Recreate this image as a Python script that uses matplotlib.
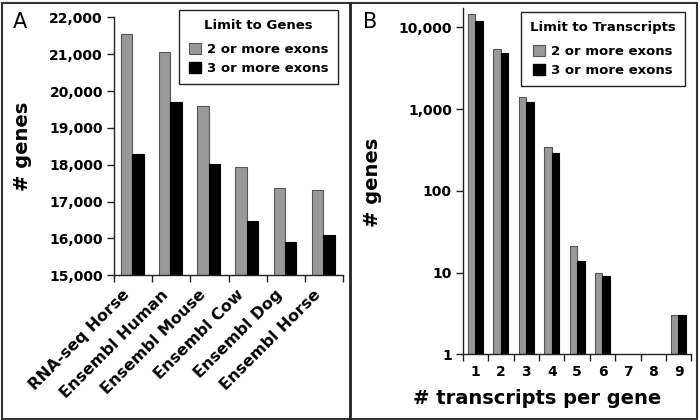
import matplotlib.pyplot as plt
import numpy as np
from matplotlib.ticker import FuncFormatter, FixedLocator, NullLocator
from matplotlib.patches import Rectangle
from matplotlib.lines import Line2D
from matplotlib.transforms import ScaledTranslation, blended_transform_factory

# Painel A: genes por anotacao
fontes = ['RNA-seq Horse', 'Ensembl Human', 'Ensembl Mouse',
          'Ensembl Cow', 'Ensembl Dog', 'Ensembl Horse']
genes_2exons = [21560, 21050, 19600, 17950, 17360, 17320]
genes_3exons = [18290, 19690, 18030, 16480, 15900, 16080]

# Painel B: transcritos por gene
transcritos = [1, 2, 3, 4, 5, 6, 7, 8, 9]
trans_2exons = [14400, 5430, 1410, 344, 21, 10, 0, 0, 3]
trans_3exons = [11900, 4900, 1220, 286, 14, 9, 0, 0, 3]

cinza = '#999999'
plt.rcParams['font.family'] = 'DejaVu Sans'
plt.rcParams['font.weight'] = 'bold'

fig = plt.figure(figsize=(7, 4.2), dpi=100)
W, H = 700.0, 420.0

def milhar(v, pos):
    return '{:,.0f}'.format(v)

def estilo(ax):
    for s in ['top', 'right']:
        ax.spines[s].set_visible(False)
    for s in ['left', 'bottom']:
        ax.spines[s].set_color('#222222')
        ax.spines[s].set_linewidth(1.0)
    ax.tick_params(axis='y', length=5, width=1, color='#222222', labelsize=10, pad=3)
    ax.tick_params(axis='x', which='major', length=0, labelsize=10)
    ax.tick_params(axis='x', which='minor', length=5, width=1, color='#222222')
    for t in ax.get_yticklabels() + ax.get_xticklabels():
        t.set_fontweight('bold')

def legenda(ax, titulo, x, y):
    hs = [Rectangle((0, 0), 1, 1, facecolor=cinza, edgecolor='#555555', linewidth=0.8),
          Rectangle((0, 0), 1, 1, facecolor='black', edgecolor='black')]
    leg = fig.legend(hs, ['2 or more exons', '3 or more exons'], title=titulo,
                     loc='upper right', bbox_to_anchor=(x / W, 1 - y / H),
                     fancybox=False, framealpha=1, edgecolor='#222222',
                     prop={'size': 9.5, 'weight': 'bold'},
                     title_fontproperties={'size': 9.5, 'weight': 'bold'},
                     handlelength=0.9, handleheight=0.9, handletextpad=0.5,
                     labelspacing=0.42, borderpad=0.7, borderaxespad=0)
    leg.get_frame().set_linewidth(1.0)
    leg._legend_box.sep = 7.8
    return leg

# ---- Painel A ----
axA = fig.add_axes([114 / W, 1 - 275.3 / H, (343 - 114) / W, (275.3 - 17.3) / H])
x = np.arange(len(fontes))
axA.bar(x - 0.17, genes_2exons, 0.3, color=cinza, edgecolor='#555555', linewidth=0.8)
axA.bar(x + 0.13, genes_3exons, 0.3, color='black', edgecolor='black', linewidth=0.8)
axA.set_xlim(-0.5, len(fontes) - 0.5)
axA.set_ylim(15000, 22000)
axA.set_yticks(np.arange(15000, 22001, 1000))
axA.yaxis.set_major_formatter(FuncFormatter(milhar))
axA.set_xticks(x)
axA.set_xticklabels([])
axA.xaxis.set_minor_locator(FixedLocator(np.arange(-0.5, len(fontes), 1.0)))
estilo(axA)
# rotulos inclinados das categorias
trans_rot = blended_transform_factory(axA.transData, axA.transAxes) + \
    ScaledTranslation(-11 / 100, -12 / 100, fig.dpi_scale_trans)
for i, nome in enumerate(fontes):
    axA.text(x[i], 0, nome, transform=trans_rot, rotation=45, ha='right', va='top',
             rotation_mode='anchor', fontsize=11.5, fontweight='bold')
fig.text(23 / W, 1 - 146 / H, '# genes', rotation=90, ha='center', va='center',
         fontsize=14, fontweight='bold')
fig.text(20 / W, 1 - 22 / H, 'A', ha='center', va='center', fontsize=15, fontweight='normal')
legenda(axA, 'Limit to Genes', 338, 10)

# ---- Painel B ----
axB = fig.add_axes([463 / W, 1 - 354.3 / H, (691.3 - 463) / W, (354.3 - 8) / H])
xb = np.array(transcritos)
v2 = np.array(trans_2exons, dtype=float)
v3 = np.array(trans_3exons, dtype=float)
h2 = np.where(v2 > 0, v2 - 1, np.nan)
h3 = np.where(v3 > 0, v3 - 1, np.nan)
axB.set_yscale('log')
axB.bar(xb - 0.155, h2, 0.29, bottom=1, color=cinza, edgecolor='#555555', linewidth=0.8)
axB.bar(xb + 0.14, h3, 0.30, bottom=1, color='black', edgecolor='black', linewidth=0.8)
axB.set_xlim(0.5, 9.5)
axB.set_ylim(1, 17200)
axB.yaxis.set_major_locator(FixedLocator([1, 10, 100, 1000, 10000]))
axB.yaxis.set_minor_locator(NullLocator())
axB.yaxis.set_major_formatter(FuncFormatter(milhar))
axB.set_xticks(xb)
axB.set_xticklabels([str(t) for t in transcritos])
axB.xaxis.set_minor_locator(FixedLocator(np.arange(0.5, 10, 1.0)))
estilo(axB)
axB.tick_params(axis='x', which='major', pad=8)
fig.text(373 / W, 1 - 182 / H, '# genes', rotation=90, ha='center', va='center',
         fontsize=14, fontweight='bold')
fig.text(537 / W, 1 - 398 / H, '# transcripts per gene', ha='center', va='center',
         fontsize=14, fontweight='bold')
fig.text(370 / W, 1 - 22 / H, 'B', ha='center', va='center', fontsize=15, fontweight='normal')
legenda(axB, 'Limit to Transcripts', 685, 12)

# moldura e divisoria
fig.patches.append(Rectangle((1.5 / W, 1.5 / H), 1 - 4.5 / W, 1 - 4 / H, transform=fig.transFigure,
                             fill=False, edgecolor='#333333', linewidth=1.5))
fig.lines.append(Line2D([350 / W, 350 / W], [1.5 / H, 1 - 2.5 / H], transform=fig.transFigure,
                        color='#222222', linewidth=2))

fig.savefig('out.png', dpi=100)
